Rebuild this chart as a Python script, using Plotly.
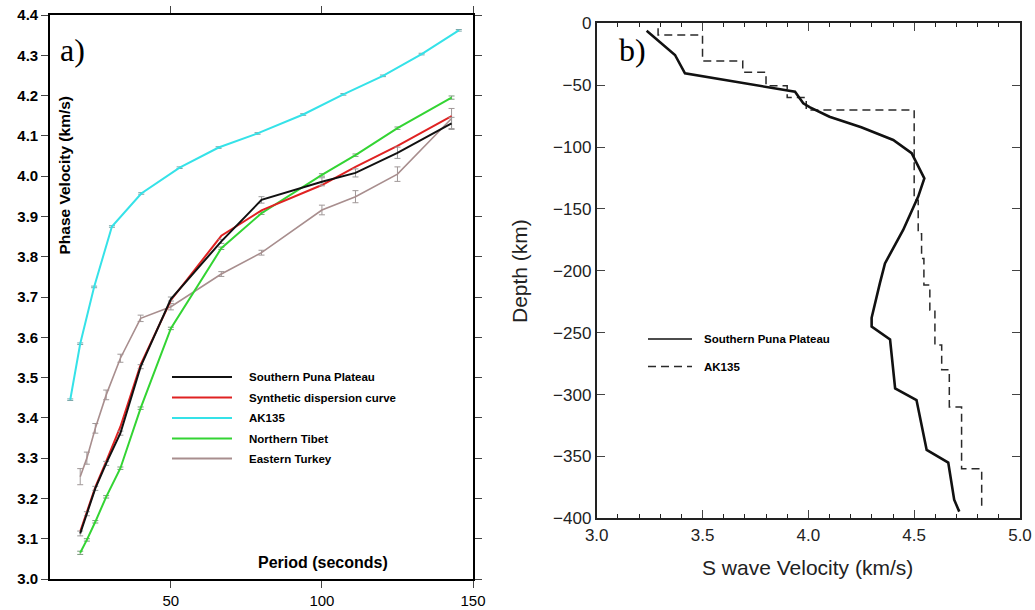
import plotly.graph_objects as go

# ---------------- Panel a data ----------------
period = [20, 22.2, 25, 28.6, 33.3, 40, 50, 66.7, 80, 100, 111.1, 125, 142.9]
puna_v = [3.113, 3.162, 3.225, 3.287, 3.362, 3.527, 3.695, 3.838, 3.941, 3.986, 4.008, 4.058, 4.131]
puna_err = [0.006, 0.005, 0.005, 0.005, 0.005, 0.005, 0.005, 0.005, 0.008, 0.01, 0.01, 0.014, 0.015]
synth_v = [3.118, 3.165, 3.228, 3.292, 3.378, 3.532, 3.692, 3.852, 3.915, 3.978, 4.023, 4.075, 4.149]
tibet_v = [3.065, 3.097, 3.142, 3.204, 3.275, 3.424, 3.622, 3.821, 3.908, 4.003, 4.052, 4.119, 4.195]
tibet_err = [0.004, 0.003, 0.003, 0.003, 0.003, 0.003, 0.003, 0.003, 0.003, 0.003, 0.003, 0.003, 0.004]
turkey_v = [3.254, 3.30, 3.374, 3.457, 3.548, 3.647, 3.676, 3.757, 3.81, 3.916, 3.949, 4.005, 4.143]
turkey_err = [0.02, 0.015, 0.012, 0.012, 0.01, 0.008, 0.008, 0.006, 0.006, 0.012, 0.015, 0.018, 0.025]
ak_period = [16.7, 20, 24.6, 30.5, 40.2, 52.9, 65.8, 78.7, 93.8, 107.1, 120.2, 133, 145.3]
ak_v = [3.445, 3.584, 3.725, 3.875, 3.957, 4.021, 4.071, 4.106, 4.153, 4.203, 4.249, 4.303, 4.362]
ak_err = [0.002] * 13

# ---------------- Panel b data ----------------
puna_vs = [3.236, 3.37, 3.417, 3.772, 3.937, 3.976, 4.008, 4.10, 4.25, 4.401, 4.488, 4.548,
           4.519, 4.448, 4.362, 4.338, 4.299, 4.299, 4.386, 4.41, 4.511, 4.559, 4.661, 4.689, 4.713]
puna_depth = [-6, -25.6, -40.4, -50.7, -55.3, -64.6, -67.9, -75.5, -84, -94.3, -105, -125.3,
              -140, -167, -194, -210, -238, -245, -255.4, -295, -304.4, -344.8, -355, -385, -394.6]
ak_vs = [3.29, 3.29, 3.50, 3.50, 3.69, 3.69, 3.80, 3.80, 3.90, 3.90, 3.99, 3.99,
         4.50, 4.50, 4.519, 4.519, 4.535, 4.535, 4.546, 4.546, 4.574, 4.574,
         4.598, 4.598, 4.63, 4.63, 4.666, 4.666, 4.724, 4.724, 4.819, 4.819]
ak_depth = [-4, -9.5, -9.5, -30.5, -30.5, -39.5, -39.5, -50.5, -50.5, -60, -60, -70,
            -70, -143, -143, -170, -170, -190, -190, -211.5, -211.5, -231.7,
            -231.7, -260, -260, -280, -280, -310, -310, -360, -360, -393]

a_yticks = [round(3.0 + 0.1 * i, 1) for i in range(15)]
b_yticks = [0, -50, -100, -150, -200, -250, -300, -350, -400]
b_xticks = [3.0, 3.5, 4.0, 4.5, 5.0]

W, H = 1035, 610
def px(x): return x / W
def py(y): return 1 - y / H

BLACK = "#111111"
RED = "#e02222"
CYAN = "#35e2e8"
GREEN = "#33d433"
TURKEY = "#a88e8e"

fig = go.Figure()

def add_a(x, y, err, color, ecolor, width=2):
    fig.add_trace(go.Scatter(
        x=x, y=y, mode="lines", line=dict(color=color, width=width),
        error_y=dict(type="data", array=err, visible=True, width=3, thickness=1, color=ecolor),
        xaxis="x", yaxis="y", showlegend=False))

add_a(ak_period, ak_v, ak_err, CYAN, "#7aa8aa")
add_a(period, turkey_v, turkey_err, TURKEY, "#a09898", 1.6)
add_a(period, tibet_v, tibet_err, GREEN, "#7a9a7a")
add_a(period, synth_v, None, RED, RED)
add_a(period, puna_v, puna_err, BLACK, "#9a9a9a")

fig.add_trace(go.Scatter(x=ak_vs, y=ak_depth, mode="lines",
                         line=dict(color="#2a2a2a", width=1.5, dash="8px,5px"),
                         xaxis="x2", yaxis="y2", showlegend=False))
fig.add_trace(go.Scatter(x=puna_vs, y=puna_depth, mode="lines",
                         line=dict(color=BLACK, width=2.6),
                         xaxis="x2", yaxis="y2", showlegend=False))

FONT = "Liberation Sans, Arial, sans-serif"

common = dict(showgrid=False, zeroline=False, automargin=False, mirror="ticks",
              showline=True, ticklabeloverflow="allow")

fig.update_layout(
    width=W, height=H, margin=dict(l=0, r=0, t=0, b=0, autoexpand=False),
    paper_bgcolor="white", plot_bgcolor="white",
    xaxis=dict(domain=[px(50), px(473)], range=[10, 150], tickvals=[50, 100, 150],
               ticks="outside", ticklen=7, tickwidth=1.3, linecolor="black", linewidth=1.6,
               tickfont=dict(family=FONT, size=15, color="black"), anchor="y", **common),
    yaxis=dict(domain=[py(579), py(15)], range=[3.0, 4.4], tickvals=a_yticks,
               ticktext=[f"{v:.1f}" for v in a_yticks],
               ticks="outside", ticklen=7, tickwidth=1.3, linecolor="black", linewidth=1.6,
               tickfont=dict(family=FONT, size=15, color="black", weight="bold"),
               anchor="x", **common),
    xaxis2=dict(domain=[px(596.7), px(1020)], range=[3.0, 5.0], tickvals=b_xticks,
                ticktext=[f"{v:.1f}" for v in b_xticks],
                ticks="inside", ticklen=8, tickwidth=1.2, linecolor="#222", linewidth=1.8,
                minor=dict(dtick=0.1, ticks="inside", ticklen=4, tickwidth=1, tickcolor="#222"),
                tickfont=dict(family=FONT, size=17, color="#222"), anchor="y2", **common),
    yaxis2=dict(domain=[py(518.3), py(23.3)], range=[-400, 0], tickvals=b_yticks,
                ticktext=[str(v).replace("-", "\u2212") for v in b_yticks],
                ticks="inside", ticklen=8, tickwidth=1.2, linecolor="#222", linewidth=1.8,
                tickfont=dict(family=FONT, size=17, color="#222"), anchor="x2", **common),
)

ann = []
def text(x, y, t, size, bold=False, family=FONT, xanchor="center", angle=0, color="black"):
    s = f"<b>{t}</b>" if bold else t
    ann.append(dict(x=px(x), y=py(y), xref="paper", yref="paper", text=s, showarrow=False,
                    xanchor=xanchor, yanchor="middle", textangle=angle,
                    font=dict(family=family, size=size, color=color)))

text(72, 50, "a)", 32, family="Liberation Serif, Times New Roman, serif")
text(632, 50, "b)", 32, family="Liberation Serif, Times New Roman, serif")
text(63.5, 175, "Phase Velocity (km/s)", 15.5, bold=True, angle=-90)
text(322.5, 562, "Period (seconds)", 16, bold=True)
text(807.7, 567, "S wave Velocity (km/s)", 21, color="#222")
text(519, 271, "Depth (km)", 21, angle=-90, color="#222")

shapes = []
leg_a = [("Southern Puna Plateau", BLACK), ("Synthetic dispersion curve", RED),
         ("AK135", CYAN), ("Northern Tibet", GREEN), ("Eastern Turkey", TURKEY)]
rows_a = [377, 397.5, 418, 438.5, 458.5]
for (lab, col), yy in zip(leg_a, rows_a):
    shapes.append(dict(type="line", xref="paper", yref="paper", x0=px(172), x1=px(232),
                       y0=py(yy), y1=py(yy), line=dict(color=col, width=2)))
    text(247, yy, lab, 11.5, bold=True, xanchor="left")

shapes.append(dict(type="line", xref="paper", yref="paper", x0=px(648), x1=px(692),
                   y0=py(339), y1=py(339), line=dict(color=BLACK, width=1.6)))
shapes.append(dict(type="line", xref="paper", yref="paper", x0=px(648), x1=px(692),
                   y0=py(366.5), y1=py(366.5), line=dict(color="#2a2a2a", width=1.5, dash="8px,5px")))
text(701.7, 339, "Southern Puna Plateau", 11.5, bold=True, xanchor="left")
text(701.7, 366.5, "AK135", 11.5, bold=True, xanchor="left")

fig.update_layout(annotations=ann, shapes=shapes)
fig.write_html("out.html", config={"displayModeBar": False},
               post_script="document.body.style.margin='0';document.body.style.overflow='hidden';")
